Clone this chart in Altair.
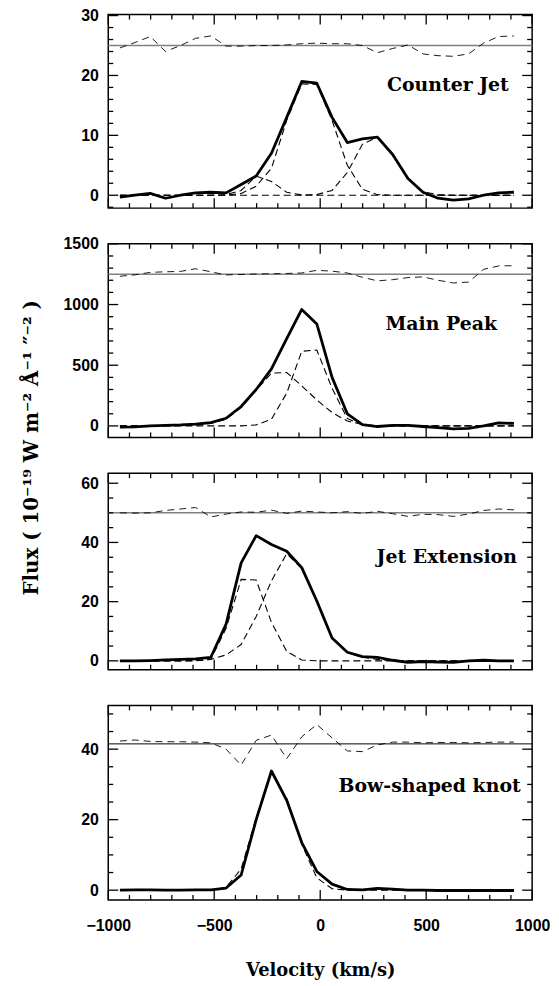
import altair as alt
import pandas as pd

# velocity grid (km/s)
V = [-945, -874, -802, -730, -659, -588, -516, -444, -373, -302, -230, -158, -87, -16,
     56, 128, 199, 270, 342, 414, 485, 556, 628, 700, 771, 842, 914]

# Counter Jet
cj_obs = [-0.3, 0.0, 0.3, -0.5, 0.0, 0.4, 0.5, 0.4, 1.8, 3.2, 7.0, 13.0, 19.0, 18.7,
          13.0, 8.8, 9.4, 9.7, 6.8, 2.8, 0.5, -0.5, -0.8, -0.6, 0.0, 0.4, 0.5]
cj_c1 = [0, 0, 0, 0, 0, 0, 0, 0.1, 0.8, 3.2, 2.3, 0.5, 0.05, 0,
         0, 0, 0, 0, 0, 0, 0, 0, 0, 0, 0, 0, 0]
cj_c2 = [0, 0, 0, 0, 0, 0, 0, 0, 0.3, 1.5, 4.5, 12.5, 18.6, 18.5,
         12.5, 5.0, 1.0, 0.1, 0, 0, 0, 0, 0, 0, 0, 0, 0]
cj_c3 = [0, 0, 0, 0, 0, 0, 0, 0, 0, 0, 0, 0, 0, 0.1,
         0.8, 3.8, 8.5, 9.7, 6.8, 2.8, 0.6, 0.1, 0, 0, 0, 0, 0]
cj_res = [24.6, 25.5, 26.5, 24.0, 25.0, 26.2, 26.6, 24.9, 24.9, 25.0, 25.0, 25.1, 25.3, 25.4,
          25.3, 25.3, 25.0, 23.8, 24.5, 25.1, 23.6, 23.3, 23.2, 23.6, 25.4, 26.5, 26.6]

# Main Peak
mp_obs = [-10, -8, 0, 5, 8, 15, 27, 63, 160, 300, 470, 720, 960, 840,
          400, 100, 10, -5, 5, 5, -5, -15, -25, -20, 0, 25, 20]
mp_c1 = [0, 0, 0, 0, 3, 8, 20, 55, 150, 295, 435, 440, 330, 214,
         110, 40, 12, 3, 0, 0, 0, 0, 0, 0, 0, 0, 0]
mp_c2 = [0, 0, 0, 0, 0, 0, 0, 0, 0, 8, 55, 270, 615, 625,
         310, 60, 8, 0, 0, 0, 0, 0, 0, 0, 0, 0, 0]
mp_res = [1233, 1245, 1265, 1270, 1273, 1295, 1270, 1244, 1248, 1252, 1254, 1256, 1260, 1282,
          1275, 1260, 1225, 1195, 1205, 1222, 1228, 1200, 1178, 1185, 1290, 1318, 1320]

# Jet Extension
je_obs = [0.0, 0.0, 0.1, 0.3, 0.5, 0.7, 1.2, 12.4, 33.1, 42.3, 39.3, 37.0, 31.5, 20.2,
          7.7, 2.9, 1.4, 1.2, 0.2, -0.5, -0.3, -0.4, -0.5, 0.0, 0.2, 0.0, 0.0]
je_c1 = [0, 0, 0, 0, 0, 0, 0.5, 11.0, 27.5, 27.3, 13.0, 3.2, 0.3, 0,
         0, 0, 0, 0, 0, 0, 0, 0, 0, 0, 0, 0, 0]
je_c2 = [0, 0, 0, 0, 0, 0.1, 0.5, 2.0, 5.5, 15.0, 27.0, 36.2, 31.2, 20.2,
         7.8, 2.9, 1.2, 0.5, 0.1, 0, 0, 0, 0, 0, 0, 0, 0]
je_res = [50.0, 49.9, 50.0, 50.8, 51.3, 51.8, 48.6, 49.6, 50.3, 50.2, 50.9, 49.8, 50.6, 50.3,
          50.0, 50.4, 49.8, 50.5, 49.7, 48.8, 49.5, 49.4, 48.8, 49.6, 50.8, 51.3, 51.0]

# Bow-shaped knot
bk_obs = [0.0, 0.1, 0.1, 0.0, 0.0, 0.1, 0.1, 0.6, 4.3, 20.0, 33.8, 25.5, 13.5, 5.3,
          1.7, 0.2, 0.1, 0.5, 0.3, 0.0, 0.0, -0.1, -0.1, -0.1, -0.1, -0.1, -0.1]
bk_c1 = [0, 0, 0, 0, 0, 0, 0, 0.8, 6.0, 20.5, 33.5, 26.0, 13.0, 3.5,
         0.4, 0, 0, 0, 0, 0, 0, 0, 0, 0, 0, 0, 0]
bk_res = [42.3, 42.6, 42.2, 42.1, 42.1, 42.0, 41.8, 40.0, 35.5, 42.5, 44.0, 37.3, 43.5, 47.0,
          43.2, 39.5, 39.3, 41.2, 42.0, 42.0, 41.8, 41.9, 41.9, 41.8, 41.9, 42.0, 42.0]

labels = ["Counter Jet", "Main Peak", "Jet Extension", "Bow-shaped knot"]
label_v = [890, 834, 928, 946]
label_f = [18.4, 836, 34.9, 29.6]
baselines = [25, 1250, 50, 41.5]
ydomains = [[-2.15, 30.17], [-95, 1500], [-3.0, 63.4], [-2.8, 52.4]]
y_major = [[0, 10, 20, 30], [0, 500, 1000, 1500], [0, 20, 40, 60], [0, 20, 40]]
y_minor = [[-2, 2, 4, 6, 8, 12, 14, 16, 18, 22, 24, 26, 28],
           [100, 200, 300, 400, 600, 700, 800, 900, 1100, 1200, 1300, 1400],
           [5, 10, 15, 25, 30, 35, 45, 50, 55],
           [5, 10, 15, 25, 30, 35, 45, 50]]
X_MAJOR = [-1000, -500, 0, 500, 1000]
X_MINOR = [-900, -800, -700, -600, -400, -300, -200, -100,
           100, 200, 300, 400, 600, 700, 800, 900]

obs_all = [cj_obs, mp_obs, je_obs, bk_obs]
comps_all = [[cj_c1, cj_c2, cj_c3], [mp_c1, mp_c2], [je_c1, je_c2], [bk_c1]]
res_all = [cj_res, mp_res, je_res, bk_res]
base_colors = ["#808080", "#808080", "#808080", "black"]
heights = [195, 195, 198, 196]
W = 427
YTITLE = "Flux ( 10\u207b\u00b9\u2079 W m\u207b\u00b2 \u00c5\u207b\u00b9 \u2033\u207b\u00b2 )"

SERIF = "DejaVu Serif"
SANS = "Liberation Sans"


def make_panel(i):
    H = heights[i]
    bottom = i == 3
    if bottom:
        xaxis = alt.Axis(values=X_MAJOR, format="d", ticks=False, tickSize=0, domain=False,
                         grid=False, labelFlush=False, labelOverlap=False, labelPadding=18,
                         labelFont=SANS, labelFontSize=16, labelFontWeight="bold",
                         labelColor="black",
                         title="Velocity (km/s)", titleFont=SERIF, titleFontSize=18,
                         titleFontWeight="bold", titleColor="black", titlePadding=28)
    else:
        xaxis = None
    if i == 1:
        yaxis = alt.Axis(values=y_major[i], format="d", ticks=False, tickSize=0, domain=False,
                         grid=False, labelPadding=10, labelFont=SANS, labelFontSize=16,
                         labelFontWeight="bold", labelColor="black",
                         title=YTITLE, titleFont=SERIF, titleFontSize=20,
                         titleFontWeight="bold", titleColor="black",
                         titleX=-77, titleY=205, titleAlign="center",
                         titleBaseline="middle", titleAngle=270)
    else:
        yaxis = alt.Axis(values=y_major[i], format="d", ticks=False, tickSize=0, domain=False,
                         grid=False, labelPadding=10, labelFont=SANS, labelFontSize=16,
                         labelFontWeight="bold", labelColor="black", title=None)
    X = alt.X("v:Q", scale=alt.Scale(domain=[-1000, 1000], nice=False, zero=False), axis=xaxis)
    Y = alt.Y("f:Q", scale=alt.Scale(domain=ydomains[i], nice=False, zero=False), axis=yaxis)

    df_obs = pd.DataFrame({"v": V, "f": obs_all[i]})
    df_res = pd.DataFrame({"v": V, "f": res_all[i]})
    rows = []
    for k, c in enumerate(comps_all[i]):
        for vv, ff in zip(V, c):
            rows.append({"v": vv, "f": ff, "s": "c%d" % k})
    df_c = pd.DataFrame(rows)
    df_base = pd.DataFrame({"f": [baselines[i]]})
    df_lab = pd.DataFrame({"v": [label_v[i]], "f": [label_f[i]], "t": [labels[i]]})
    df_xM = pd.DataFrame({"v": X_MAJOR})
    df_xm = pd.DataFrame({"v": X_MINOR})
    df_yM = pd.DataFrame({"f": y_major[i]})
    df_ym = pd.DataFrame({"f": y_minor[i]})

    base = alt.Chart(df_base).mark_rule(color=base_colors[i],
                                        strokeWidth=1.5 if i < 3 else 1.0).encode(y=Y)
    res = alt.Chart(df_res).mark_line(color="black", strokeWidth=0.9,
                                      strokeDash=[7, 5]).encode(x=X, y=Y)
    comps = alt.Chart(df_c).mark_line(color="black", strokeWidth=1.1,
                                      strokeDash=[7, 4]).encode(x=X, y=Y, detail="s:N")
    obs = alt.Chart(df_obs).mark_line(color="black", strokeWidth=2.8,
                                      strokeJoin="round").encode(x=X, y=Y)
    lab = alt.Chart(df_lab).mark_text(align="right", baseline="middle", font=SERIF,
                                      fontSize=19, fontWeight="bold",
                                      color="black").encode(x=X, y=Y, text="t:N")
    tk = dict(color="black", strokeWidth=1.3)
    xt_top_M = alt.Chart(df_xM).mark_rule(**tk).encode(x=X, y=alt.value(0), y2=alt.value(10))
    xt_top_m = alt.Chart(df_xm).mark_rule(**tk).encode(x=X, y=alt.value(0), y2=alt.value(5))
    xt_bot_M = alt.Chart(df_xM).mark_rule(**tk).encode(x=X, y=alt.value(H), y2=alt.value(H - 10))
    xt_bot_m = alt.Chart(df_xm).mark_rule(**tk).encode(x=X, y=alt.value(H), y2=alt.value(H - 5))
    yt_l_M = alt.Chart(df_yM).mark_rule(**tk).encode(y=Y, x=alt.value(0), x2=alt.value(10))
    yt_l_m = alt.Chart(df_ym).mark_rule(**tk).encode(y=Y, x=alt.value(0), x2=alt.value(5))
    yt_r_M = alt.Chart(df_yM).mark_rule(**tk).encode(y=Y, x=alt.value(W), x2=alt.value(W - 10))
    yt_r_m = alt.Chart(df_ym).mark_rule(**tk).encode(y=Y, x=alt.value(W), x2=alt.value(W - 5))

    return alt.layer(base, res, comps, obs, lab,
                     xt_top_M, xt_top_m, xt_bot_M, xt_bot_m,
                     yt_l_M, yt_l_m, yt_r_M, yt_r_m).properties(width=W, height=H)


chart = alt.vconcat(*[make_panel(i) for i in range(4)], spacing=36, bounds="flush").properties(
    padding={"left": 13, "top": -5, "right": 0, "bottom": 0},
    background="white",
).configure_view(stroke="black", strokeWidth=1.5)

chart.save("out.html", embed_options={"renderer": "svg", "actions": False})
